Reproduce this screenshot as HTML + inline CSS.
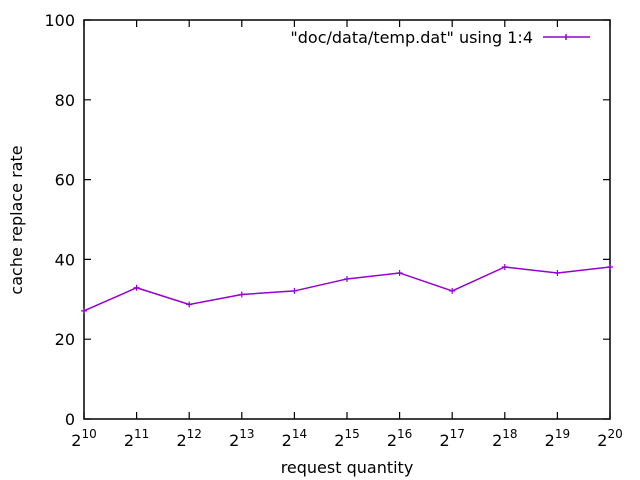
<!DOCTYPE html>
<html><head><meta charset="utf-8"><style>
body{margin:0;background:#fff}
svg{display:block;font-family:"DejaVu Sans","Liberation Sans",sans-serif}
</style></head><body>
<svg id="chart" width="640" height="480">
<g id="axes"></g><g id="series"></g>
</svg>
<script>
const exponents=[10,11,12,13,14,15,16,17,18,19,20];
const rates=[27.1,32.9,28.7,31.2,32.1,35.1,36.6,32.1,38.1,36.6,38.1];
const yTicks=[0,20,40,60,80,100];
const L=84,R=610,T=20,B=419;
const xs=e=>L+(e-10)/(20-10)*(R-L);
const ys=v=>B-v/100*(B-T);
const NS="http://www.w3.org/2000/svg";
const ax=document.getElementById('axes'),se=document.getElementById('series');
function mk(p,tag,at){const e=document.createElementNS(NS,tag);for(const k in at)e.setAttribute(k,at[k]);p.appendChild(e);return e;}
const frame=mk(ax,'rect',{x:L,y:T,width:R-L,height:B-T,fill:'none',stroke:'#000','stroke-width':1.5});


yTicks.forEach(v=>{const y=ys(v);
 const t=mk(ax,'path',{d:`M${L},${y}h7M${R},${y}h-7`,stroke:'#000','stroke-width':1.2});
 
 
 const l=mk(ax,'text',{x:L-9,y:y+6,'text-anchor':'end','font-size':16});l.textContent=v;
 
 
});
exponents.forEach(e=>{const x=xs(e);
 const t=mk(ax,'path',{d:`M${x},${B}v-7M${x},${T}v7`,stroke:'#000','stroke-width':1.2});
 
 
 const l=mk(ax,'text',{x:x,y:446,'text-anchor':'middle','font-size':16});
 l.innerHTML=`2<tspan dy="-8" font-size="12">${e}</tspan>`;
 
 
});
const xt=mk(ax,'text',{x:347,y:473,'text-anchor':'middle','font-size':16});xt.textContent='request quantity';


const yt=mk(ax,'text',{x:22,y:220,'text-anchor':'middle','font-size':16,transform:'rotate(-90 22 220)'});yt.textContent='cache replace rate';


const line=mk(se,'polyline',{points:exponents.map((e,i)=>xs(e)+','+ys(rates[i])).join(' '),fill:'none',stroke:'#9400d3','stroke-width':1.5});


exponents.forEach((e,i)=>{const x=xs(e),y=ys(rates[i]);
 const p=mk(se,'path',{d:`M${x-3},${y}h6M${x},${y-3}v6`,stroke:'#9400d3','stroke-width':1.2});
 
 
});
const lt=mk(ax,'text',{x:533,y:43,'text-anchor':'end','font-size':16});lt.textContent='"doc/data/temp.dat" using 1:4';


const ll=mk(ax,'path',{d:'M543,37h47M566,34v6',stroke:'#9400d3','stroke-width':1.5});


</script>
</body></html>
